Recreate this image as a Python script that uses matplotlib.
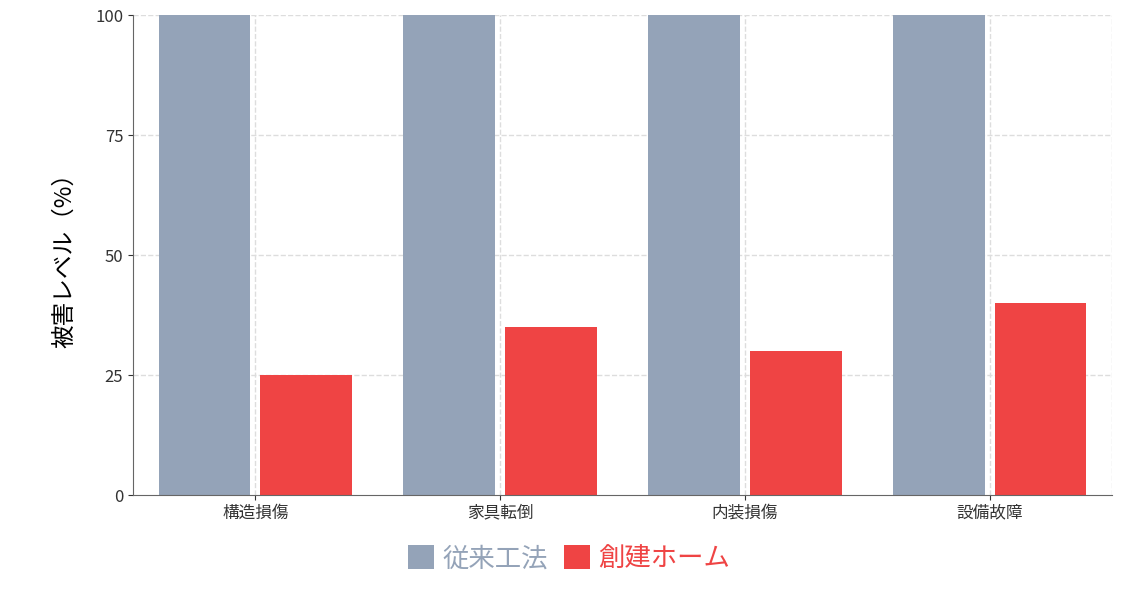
import matplotlib.pyplot as plt
import numpy as np

plt.rcParams['font.family'] = ['Noto Sans CJK JP', 'DejaVu Sans']

categories = ["構造損傷", "家具転倒", "内装損傷", "設備故障"]
conventional = [100, 100, 100, 100]
souken = [25, 35, 30, 40]

gray = "#94a3b8"
red = "#ef4444"

fig = plt.figure(figsize=(11.38, 5.96), dpi=100)
ax = fig.add_axes([133 / 1138, 1 - 495 / 596, 979 / 1138, 480 / 596])

x = np.arange(len(categories))
w = 0.375
ax.bar(x - 0.208, conventional, w, color=gray, label="従来工法", zorder=2)
ax.bar(x + 0.208, souken, w, color=red, label="創建ホーム", zorder=2)

ax.set_xlim(-0.5, 3.5)
ax.set_ylim(0, 100)
ax.set_yticks([0, 25, 50, 75, 100])
ax.set_xticks(x)
ax.set_xticklabels(categories, fontsize=12)
ax.tick_params(axis='y', labelsize=12, colors="#333333")
ax.tick_params(axis='x', colors="#333333")
for v in x:
    ax.axvline(v, color="#dddddd", linestyle="--", linewidth=1, zorder=1)
ax.axvline(3.5, color="#dddddd", linestyle="--", linewidth=1, zorder=1)
for v in [25, 50, 75, 100]:
    ax.axhline(v, color="#dddddd", linestyle="--", linewidth=1, zorder=1)

for s in ["top", "right"]:
    ax.spines[s].set_visible(False)
ax.spines["left"].set_color("#666666")
ax.spines["bottom"].set_color("#666666")

ax.set_ylabel("被害レベル（%）", fontsize=17, labelpad=14)

leg = fig.legend(loc="lower center", bbox_to_anchor=(0.5, 0.0), ncol=2, frameon=False,
                 fontsize=19, handlelength=1.0, handleheight=1.0, handletextpad=0.3,
                 columnspacing=0.6)
for t, c in zip(leg.get_texts(), [gray, red]):
    t.set_color(c)

fig.savefig("out.png", dpi=100)
